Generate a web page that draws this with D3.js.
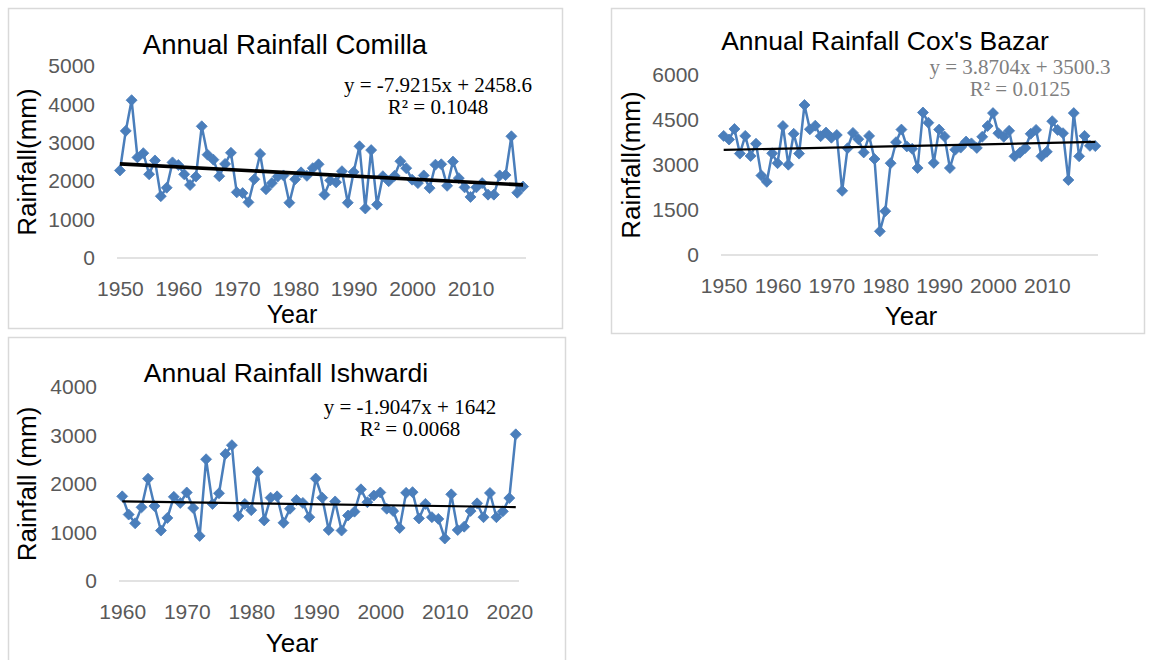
<!DOCTYPE html>
<html>
<head>
<meta charset="utf-8">
<script src="https://cdn.jsdelivr.net/npm/d3@7"></script>
<style>
  html, body { margin: 0; padding: 0; background: #ffffff; }
  svg { display: block; }
</style>
</head>
<body>
<svg id="chart" width="1151" height="660"></svg>
<script>
// Annual rainfall (mm), one value per year
const comillaRain = [2280, 3310, 4110, 2620, 2730, 2180, 2540, 1610, 1830, 2490,
                     2420, 2180, 1900, 2120, 3430, 2690, 2560, 2130, 2450, 2740,
                     1710, 1690, 1450, 2050, 2710, 1790, 1950, 2120, 2150, 1440,
                     2050, 2230, 2140, 2340, 2440, 1650, 2020, 1970, 2260, 1440,
                     2240, 2910, 1290, 2810, 1390, 2130, 2000, 2140, 2520, 2340,
                     2040, 1950, 2150, 1820, 2430, 2440, 1880, 2510, 2080, 1840,
                     1590, 1840, 1950, 1650, 1650, 2150, 2160, 3170, 1700, 1860];
const comillaFirstYear = 1950;

const coxRain = [3970, 3850, 4200, 3380, 3970, 3300, 3710, 2650, 2440, 3390,
                 3060, 4300, 3010, 4040, 3380, 5000, 4190, 4310, 3960, 4080,
                 3910, 4000, 2140, 3560, 4070, 3860, 3420, 3970, 3200, 790,
                 1460, 3060, 3760, 4180, 3620, 3540, 2900, 4750, 4410, 3070,
                 4180, 3950, 2900, 3510, 3580, 3780, 3720, 3570, 3940, 4300,
                 4730, 4060, 3940, 4140, 3290, 3410, 3570, 4040, 4170, 3290,
                 3440, 4460, 4170, 4060, 2500, 4730, 3290, 3970, 3640, 3630];
const coxFirstYear = 1950;

const ishwardiRain = [1745, 1370, 1190, 1520, 2110, 1545, 1040, 1300, 1735, 1610,
                      1825, 1505, 930, 2510, 1590, 1808, 2620, 2800, 1340, 1590,
                      1460, 2250, 1250, 1718, 1745, 1200, 1490, 1670, 1610, 1316,
                      2113, 1718, 1052, 1640, 1040, 1350, 1430, 1890, 1625, 1762,
                      1825, 1490, 1443, 1093, 1818, 1832, 1290, 1590, 1316, 1280,
                      876, 1787, 1052, 1120, 1443, 1601, 1316, 1815, 1316, 1436,
                      1710, 3024];
const ishwardiFirstYear = 1960;

// Axis ticks
const comillaYTicks = [0, 1000, 2000, 3000, 4000, 5000];
const coxYTicks = [0, 1500, 3000, 4500, 6000];
const ishwardiYTicks = [0, 1000, 2000, 3000, 4000];
const comillaXTicks = [1950, 1960, 1970, 1980, 1990, 2000, 2010];
const coxXTicks = [1950, 1960, 1970, 1980, 1990, 2000, 2010];
const ishwardiXTicks = [1960, 1970, 1980, 1990, 2000, 2010, 2020];

// Linear trend fits: [slope, intercept] over the year index 1..n
const comillaFit = [-7.9215, 2458.6];
const coxFit = [3.8704, 3500.3];
const ishwardiFit = [-1.9047, 1642];
const comillaFitText = ["y = -7.9215x + 2458.6", "R\u00B2 = 0.1048"];
const coxFitText = ["y = 3.8704x + 3500.3", "R\u00B2 = 0.0125"];
const ishwardiFitText = ["y = -1.9047x + 1642", "R\u00B2 = 0.0068"];

const SERIES_BLUE = "#4a7ebb";
const SANS = "'Liberation Sans', Arial, sans-serif";
const SERIF = "'Liberation Serif', 'Times New Roman', serif";

const panels = [
  {
    title: "Annual Rainfall Comilla", yLabel: "Rainfall(mm)",
    values: comillaRain, firstYear: comillaFirstYear,
    yMax: 5000, yTicks: comillaYTicks, xTicks: comillaXTicks,
    fit: comillaFit, fitText: comillaFitText, fitColor: "#000000", trendWidth: 3.6,
    frame: { x: 8, y: 8, w: 554, h: 320 },
    plot: { l: 117, r: 526, t: 66, b: 258 },
    titlePos: [285, 54], titleSize: 27.5,
    eqPos: [438, 92], yLabelX: 36, yearPos: [292, 323], yearSize: 25
  },
  {
    title: "Annual Rainfall Cox's Bazar", yLabel: "Rainfall(mm)",
    values: coxRain, firstYear: coxFirstYear,
    yMax: 6000, yTicks: coxYTicks, xTicks: coxXTicks,
    fit: coxFit, fitText: coxFitText, fitColor: "#7f7f7f", trendWidth: 2.2,
    frame: { x: 611, y: 8, w: 533, h: 325 },
    plot: { l: 721, r: 1098, t: 75, b: 255 },
    titlePos: [885, 50], titleSize: 26.5,
    eqPos: [1020, 74], yLabelX: 640, yearPos: [911, 325], yearSize: 26
  },
  {
    title: "Annual Rainfall Ishwardi", yLabel: "Rainfall (mm)",
    values: ishwardiRain, firstYear: ishwardiFirstYear,
    yMax: 4000, yTicks: ishwardiYTicks, xTicks: ishwardiXTicks,
    fit: ishwardiFit, fitText: ishwardiFitText, fitColor: "#000000", trendWidth: 2.2,
    frame: { x: 8, y: 337, w: 557, h: 340 },
    plot: { l: 119, r: 519, t: 387, b: 581 },
    titlePos: [286, 382], titleSize: 26.5,
    eqPos: [410, 414], yLabelX: 36, yearPos: [292, 652], yearSize: 26
  }
];

const svg = d3.select("#chart");

function diamond(r) {
  return `M0,${-r}L${r},0L0,${r}L${-r},0Z`;
}

panels.forEach(p => {
  const g = svg.append("g");
  const years = p.values.map((_, i) => p.firstYear + i);
  const rows = p.values.map((v, i) => ({ year: years[i], value: v }));

  // chart frame
  g.append("rect")
    .attr("x", p.frame.x + 0.5).attr("y", p.frame.y + 0.5)
    .attr("width", p.frame.w).attr("height", p.frame.h)
    .attr("fill", "#ffffff").attr("stroke", "#d9d9d9").attr("stroke-width", 1.5);

  const x = d3.scalePoint().domain(years).range([p.plot.l, p.plot.r]).padding(0.5);
  const y = d3.scaleLinear().domain([0, p.yMax]).range([p.plot.b, p.plot.t]);

  // zero line
  g.append("line")
    .attr("x1", p.plot.l).attr("x2", p.plot.r)
    .attr("y1", y(0)).attr("y2", y(0))
    .attr("stroke", "#d9d9d9").attr("stroke-width", 1.5);

  // y axis labels
  const yAxis = g.append("g")
    .attr("transform", `translate(${p.plot.l},0)`)
    .call(d3.axisLeft(y).tickValues(p.yTicks).tickSize(0).tickPadding(22).tickFormat(d3.format("d")));
  yAxis.select(".domain").remove();
  yAxis.selectAll("text")
    .attr("font-family", SANS).attr("font-size", 21).attr("fill", "#595959");

  // x axis labels every ten years
  const xAxis = g.append("g")
    .attr("transform", `translate(0,${p.plot.b})`)
    .call(d3.axisBottom(x).tickValues(p.xTicks).tickSize(0).tickFormat(d3.format("d")));
  xAxis.select(".domain").remove();
  xAxis.selectAll("text")
    .attr("y", 38).attr("dy", 0)
    .attr("font-family", SANS).attr("font-size", 21).attr("fill", "#595959");

  // series line
  g.append("path")
    .datum(rows)
    .attr("fill", "none")
    .attr("stroke", SERIES_BLUE)
    .attr("stroke-width", 2.5)
    .attr("stroke-linejoin", "round")
    .attr("d", d3.line().x(d => x(d.year)).y(d => y(d.value)));

  // diamond markers
  g.append("g").selectAll("path")
    .data(rows)
    .join("path")
    .attr("d", diamond(5.5))
    .attr("transform", d => `translate(${x(d.year)},${y(d.value)})`)
    .attr("fill", SERIES_BLUE)
    .attr("stroke", SERIES_BLUE)
    .attr("stroke-width", 0.8);

  // linear trend line from the stated fit
  const n = p.values.length;
  const trend = [1, n].map(k => ({ year: years[k - 1], value: p.fit[0] * k + p.fit[1] }));
  g.append("path")
    .datum(trend)
    .attr("fill", "none")
    .attr("stroke", "#000000")
    .attr("stroke-width", p.trendWidth)
    .attr("d", d3.line().x(d => x(d.year)).y(d => y(d.value)));

  // trend equation
  const eq = g.append("text")
    .attr("font-family", SERIF).attr("font-size", 21)
    .attr("fill", p.fitColor).attr("text-anchor", "middle");
  p.fitText.forEach((t, i) => {
    eq.append("tspan")
      .attr("x", p.eqPos[0]).attr("y", p.eqPos[1] + i * 22)
      .text(t);
  });

  // title
  g.append("text")
    .attr("x", p.titlePos[0]).attr("y", p.titlePos[1])
    .attr("text-anchor", "middle")
    .attr("font-family", SANS).attr("font-size", p.titleSize)
    .attr("fill", "#000000")
    .text(p.title);

  // axis titles
  g.append("text")
    .attr("x", p.yearPos[0]).attr("y", p.yearPos[1])
    .attr("text-anchor", "middle")
    .attr("font-family", SANS).attr("font-size", p.yearSize)
    .attr("fill", "#000000")
    .text("Year");

  g.append("text")
    .attr("transform", `translate(${p.yLabelX},${(p.plot.t + p.plot.b) / 2}) rotate(-90)`)
    .attr("text-anchor", "middle")
    .attr("font-family", SANS).attr("font-size", 26)
    .attr("fill", "#000000")
    .text(p.yLabel);
});
</script>
</body>
</html>
